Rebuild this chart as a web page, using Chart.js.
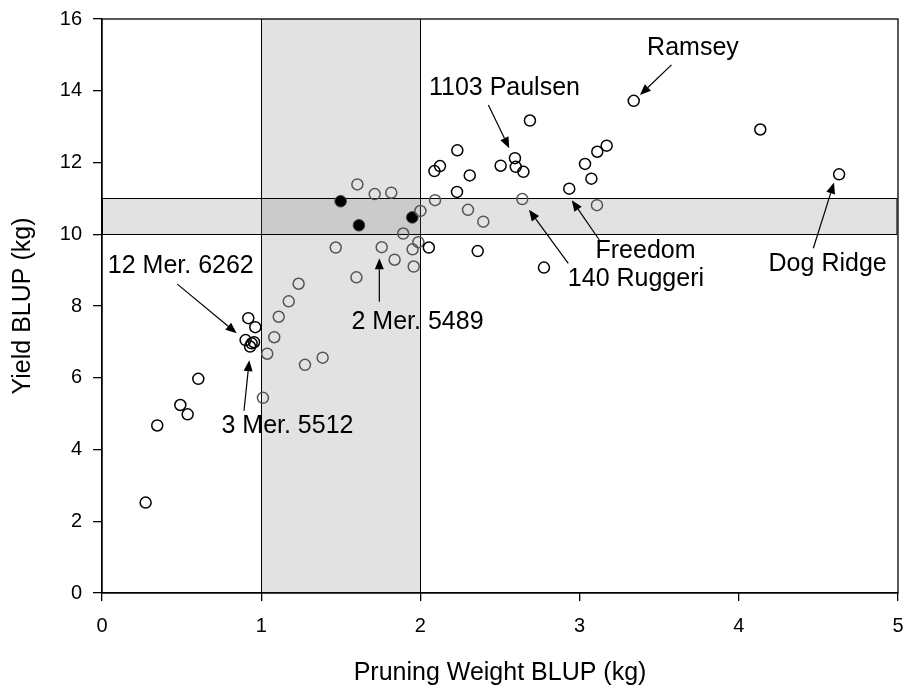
<!DOCTYPE html>
<html><head><meta charset="utf-8">
<script src="https://cdn.jsdelivr.net/npm/chart.js@4.4.1/dist/chart.umd.min.js"></script>
<style>html,body{margin:0;padding:0;background:#fff}</style>
</head><body>
<canvas id="c" width="909" height="696"></canvas>
<script>
// ---- data ----
const pruningWeight = [0.274,0.347,0.492,0.538,0.605,0.919,0.963,0.902,0.940,0.955,0.930,1.011,1.038,1.082,1.110,1.173,1.235,1.275,1.386,1.468,1.598,1.604,1.713,1.817,1.757,1.838,1.892,1.951,1.987,1.958,2.000,2.053,2.092,2.088,2.123,2.232,2.310,2.230,2.299,2.395,2.360,2.688,2.504,2.594,2.599,2.647,2.640,2.776,2.935,3.034,3.074,3.111,3.170,3.109,3.340,4.135,4.630];
const yieldBlup     = [2.52,4.67,5.24,4.98,5.97,7.66,7.41,7.05,6.96,6.99,6.87,5.44,6.67,7.13,7.70,8.13,8.62,6.36,6.56,9.63,8.80,11.39,11.12,11.16,9.64,9.29,10.02,9.58,9.78,9.10,10.65,9.63,10.95,11.76,11.90,12.34,11.64,11.18,10.68,10.35,9.53,13.17,11.91,12.12,11.88,11.74,10.98,9.07,11.27,11.96,11.55,12.30,12.47,10.81,13.72,12.92,11.67];
const selectedPruning = [1.499,1.614,1.949];
const selectedYield   = [10.92,10.25,10.47];
const xTicks = [0,1,2,3,4,5];
const yTicks = [0,2,4,6,8,10,12,14,16];
const pruningBand = [1,2];
const yieldBand = [10,11];
// annotation labels (data units): text anchor, arrow tail, arrow head
const labelNames = ['Ramsey','1103 Paulsen','Freedom','140 Ruggeri','Dog Ridge','12 Mer. 6262','3 Mer. 5512','2 Mer. 5489'];
const labelX = [3.712,2.528,3.414,3.354,4.558,0.495,1.165,1.982];
const labelY = [15.19,14.08,9.53,8.75,9.17,9.12,4.66,7.55];
const arrowTailX = [3.577,2.427,3.124,2.929,4.468,0.473,0.892,1.742];
const arrowTailY = [14.72,13.60,9.84,9.19,9.61,8.61,5.08,8.12];
const arrowHeadX = [3.379,2.558,2.951,2.682,4.598,0.846,0.925,1.742];
const arrowHeadY = [13.88,12.40,10.95,10.68,11.44,7.24,6.49,9.33];

const FONT = "'Liberation Sans', Arial, Helvetica, sans-serif";
const openPts = pruningWeight.map((x,i)=>({x, y: yieldBlup[i]}));
const filledPts = selectedPruning.map((x,i)=>({x, y: selectedYield[i]}));
const inBand = p => (p.x>=pruningBand[0] && p.x<=pruningBand[1]) || (p.y>=yieldBand[0] && p.y<=yieldBand[1]);

const bandsPlugin = {
  id:'bands',
  beforeDatasetsDraw(chart){
    const {ctx, scales:{x,y}} = chart;
    ctx.save();
    ctx.fillStyle = 'rgba(120,120,120,0.21)';
    ctx.strokeStyle = '#000'; ctx.lineWidth = 1;
    let x0 = x.getPixelForValue(pruningBand[0]), x1 = x.getPixelForValue(pruningBand[1]);
    let yt = y.getPixelForValue(y.max), yb = y.getPixelForValue(y.min);
    ctx.fillRect(x0, yt, x1-x0, yb-yt);
    ctx.beginPath(); ctx.moveTo(Math.round(x0)+0.5,yt); ctx.lineTo(Math.round(x0)+0.5,yb);
    ctx.moveTo(Math.round(x1)+0.5,yt); ctx.lineTo(Math.round(x1)+0.5,yb); ctx.stroke();
    let hx0 = x.getPixelForValue(x.min), hx1 = x.getPixelForValue(4.99);
    let y0 = y.getPixelForValue(yieldBand[1]), y1 = y.getPixelForValue(yieldBand[0]);
    ctx.fillRect(hx0, y0, hx1-hx0, y1-y0);
    ctx.strokeRect(hx0+0.5, Math.round(y0)+0.5, hx1-hx0, Math.round(y1)-Math.round(y0));
    ctx.restore();
  },
  afterDatasetsDraw(chart){
    const {ctx, chartArea:a, scales:{x,y}} = chart;
    ctx.save();
    ctx.strokeStyle='#000'; ctx.lineWidth=1.3;
    ctx.strokeRect(a.left, a.top, a.right-a.left, a.bottom-a.top);
    ctx.fillStyle='#000'; ctx.font = '25px '+FONT;
    ctx.textAlign='center'; ctx.textBaseline='middle';
    labelNames.forEach((t,i)=>{
      ctx.fillText(t, x.getPixelForValue(labelX[i]), y.getPixelForValue(labelY[i]));
      const tx=x.getPixelForValue(arrowTailX[i]), ty=y.getPixelForValue(arrowTailY[i]);
      const hx=x.getPixelForValue(arrowHeadX[i]), hy=y.getPixelForValue(arrowHeadY[i]);
      const ang=Math.atan2(hy-ty,hx-tx), L=11, W=4.5;
      const bx=hx-L*Math.cos(ang), by=hy-L*Math.sin(ang);
      ctx.lineWidth=1.2;
      ctx.beginPath(); ctx.moveTo(tx,ty); ctx.lineTo(bx,by); ctx.stroke();
      ctx.beginPath(); ctx.moveTo(hx,hy);
      ctx.lineTo(bx+W*Math.sin(ang), by-W*Math.cos(ang));
      ctx.lineTo(bx-W*Math.sin(ang), by+W*Math.cos(ang));
      ctx.closePath(); ctx.fill();
    });
    ctx.restore();
  }
};

new Chart(document.getElementById('c'), {
  type:'scatter',
  data:{datasets:[
    {label:'Genotypes', data:openPts, pointRadius:5.5, borderWidth:1.5,
     pointBackgroundColor:'rgba(0,0,0,0)',
     pointBorderColor: c => (c.raw && inBand(c.raw)) ? '#555' : '#000'},
    {label:'Selected', data:filledPts, pointRadius:5.8, borderWidth:1,
     pointBackgroundColor:'#000', pointBorderColor:'#444'}
  ]},
  options:{
    responsive:false, animation:false, events:[],
    layout:{padding:{top:19,right:11,left:0,bottom:0}},
    plugins:{legend:{display:false}, tooltip:{enabled:false}},
    scales:{
      x:{type:'linear', min:0, max:5,
         afterBuildTicks: s => { s.ticks = xTicks.map(v=>({value:v})); },
         afterFit: s => { s.height = 103; s.paddingLeft = 0; s.paddingRight = 0; },
         grid:{display:true, drawOnChartArea:false, drawTicks:true, tickLength:8, color:'#000', lineWidth:1.3},
         border:{display:true, color:'#000', width:1.3},
         ticks:{color:'#000', font:{family:FONT, size:20}, padding:13, maxRotation:0},
         title:{display:true, text:'Pruning Weight BLUP (kg)', color:'#000', font:{family:FONT, size:25}, padding:{top:0,bottom:8}}},
      y:{type:'linear', min:0, max:16,
         afterBuildTicks: s => { s.ticks = yTicks.map(v=>({value:v})); },
         afterFit: s => { s.width = 102; s.paddingTop = 0; s.paddingBottom = 0; },
         grid:{display:true, drawOnChartArea:false, drawTicks:true, tickLength:9, color:'#000', lineWidth:1.3},
         border:{display:true, color:'#000', width:1.3},
         ticks:{color:'#000', font:{family:FONT, size:20}, padding:11},
         title:{display:true, text:'Yield BLUP (kg)', color:'#000', font:{family:FONT, size:25}, padding:{top:8,bottom:0}}}
    }
  },
  plugins:[bandsPlugin]
});
</script>
</body></html>
